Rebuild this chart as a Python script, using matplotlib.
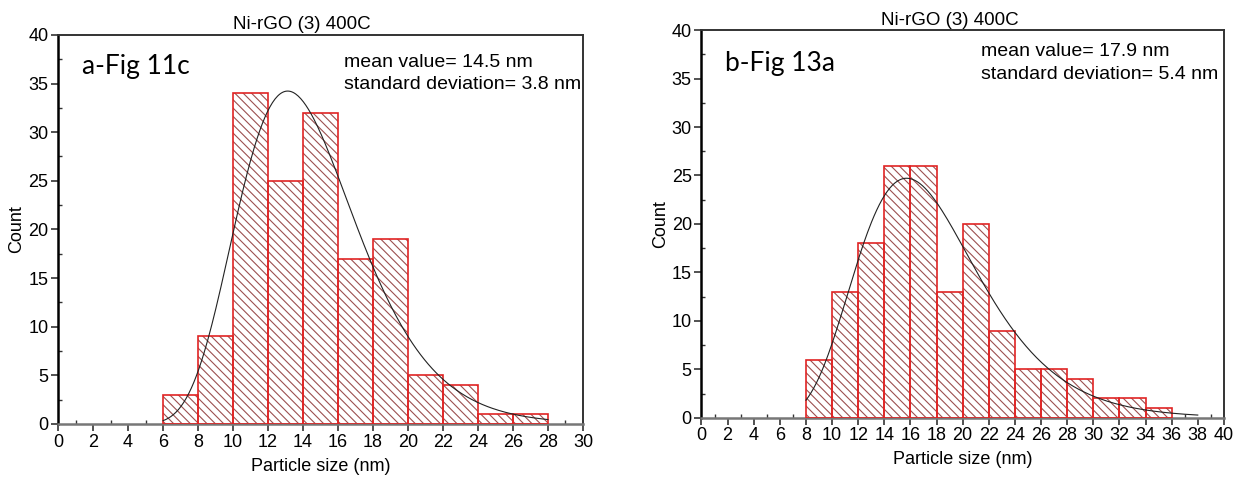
import numpy as np
import matplotlib
matplotlib.use("Agg")
import matplotlib.pyplot as plt
from matplotlib.ticker import MultipleLocator

plt.rcParams['font.family'] = ['Liberation Sans', 'DejaVu Sans']
plt.rcParams['hatch.linewidth'] = 0.8

# panel a
edges_a = [6, 8, 10, 12, 14, 16, 18, 20, 22, 24, 26, 28]
counts_a = [3, 9, 34, 25, 32, 17, 19, 5, 4, 1, 1]
mean_a = 14.5
sd_a = 3.8

# panel b
edges_b = [8, 10, 12, 14, 16, 18, 20, 22, 24, 26, 28, 30, 32, 34, 36]
counts_b = [6, 13, 18, 26, 26, 13, 20, 9, 5, 5, 4, 2, 2, 1]
mean_b = 17.9
sd_b = 5.4

title = "Ni-rGO (3) 400C"


def lognorm_fit(mean, sd, n, width, x0, x1):
    # log-normal curve with the stated mean / sd, scaled to counts
    s2 = np.log(1 + (sd / mean) ** 2)
    mu = np.log(mean) - s2 / 2
    x = np.linspace(x0, x1, 300)
    y = n * width / (x * np.sqrt(2 * np.pi * s2)) * np.exp(-(np.log(x) - mu) ** 2 / (2 * s2))
    return x, y


def draw(ax, edges, counts, mean, sd, xmax, label, fitend, tx, ty, ly, ttl_x):
    left = edges[:-1]
    w = np.diff(edges)
    ax.bar(left, counts, width=w, align='edge', facecolor='white',
           edgecolor='#9c5050', hatch='\\\\\\\\', linewidth=0, zorder=2)
    ax.bar(left, counts, width=w, align='edge', facecolor='none',
           edgecolor='#e02424', linewidth=1.2, zorder=3)
    x, y = lognorm_fit(mean, sd, sum(counts), w[0], edges[0], fitend)
    ax.plot(x, y, color='#222222', lw=0.8, zorder=4)

    ax.set_xlim(0, xmax)
    ax.set_ylim(0, 40)
    ax.xaxis.set_major_locator(MultipleLocator(2))
    ax.xaxis.set_minor_locator(MultipleLocator(1))
    ax.yaxis.set_major_locator(MultipleLocator(5))
    ax.yaxis.set_minor_locator(MultipleLocator(2.5))
    ax.tick_params(which='major', direction='out', length=5, width=1.2,
                   labelsize=13, pad=2, color='#333333')
    ax.tick_params(which='minor', direction='in', length=3, width=1, color='#333333')
    ax.spines['left'].set_linewidth(1.8)
    ax.spines['left'].set_color('black')
    ax.spines['bottom'].set_linewidth(1.8)
    ax.spines['bottom'].set_color('#777777')
    for sp in ['top', 'right']:
        ax.spines[sp].set_linewidth(1.4)
        ax.spines[sp].set_color('#333333')

    ax.set_title(title, fontsize=13.5, x=ttl_x, pad=4)
    ax.set_xlabel("Particle size (nm)", fontsize=13, labelpad=5)
    ax.set_ylabel("Count", fontsize=13, labelpad=2)
    ax.text(0.045, ly, label, transform=ax.transAxes, fontsize=19,
            family=['Lato', 'DejaVu Sans'], va='center', ha='left')
    ax.text(tx, ty, "mean value= %.1f nm\nstandard deviation= %.1f nm" % (mean, sd),
            transform=ax.transAxes, fontsize=14, va='center', ha='left',
            linespacing=1.4, clip_on=False)


fig = plt.figure(figsize=(12.35, 4.78), dpi=100)
ax1 = fig.add_axes([0.047, 0.113, 0.425, 0.814])
ax2 = fig.add_axes([0.568, 0.126, 0.423, 0.811])

draw(ax1, edges_a, counts_a, mean_a, sd_a, 30, "a-Fig 11c", 28, 0.545, 0.90, 0.92, 0.465)
draw(ax2, edges_b, counts_b, mean_b, sd_b, 40, "b-Fig 13a", 38, 0.536, 0.915, 0.913, 0.475)

fig.savefig("out.png", dpi=100)
